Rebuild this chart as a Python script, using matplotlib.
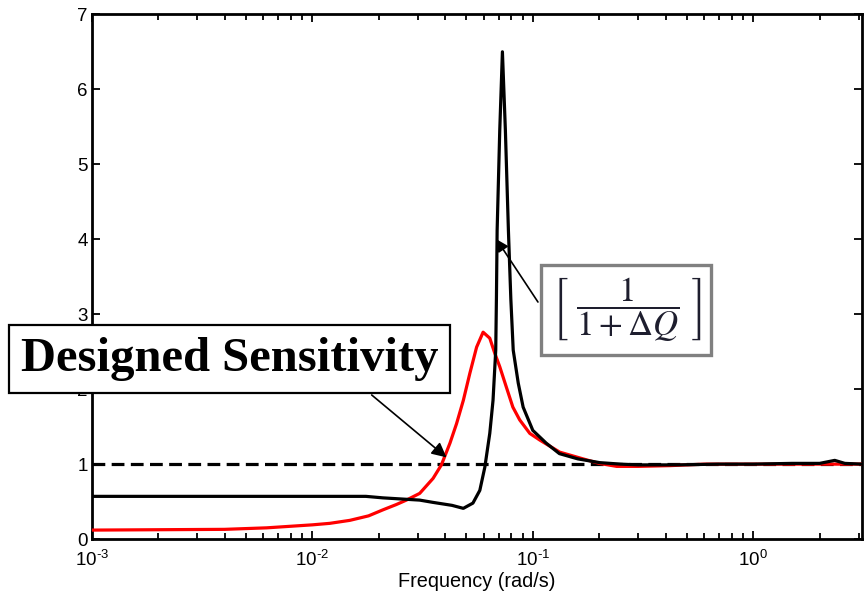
import matplotlib
matplotlib.use("Agg")
import matplotlib.pyplot as plt
from matplotlib.ticker import FixedLocator, FuncFormatter

# designed sensitivity (red)
red_freq = [0.001, 0.002, 0.004, 0.0062, 0.01, 0.012, 0.0148, 0.018, 0.0209, 0.024,
            0.0267, 0.0307, 0.0353, 0.0385, 0.0421, 0.0451, 0.0484, 0.0518, 0.0556,
            0.0595, 0.0638, 0.0672, 0.0708, 0.0758, 0.0812, 0.0872, 0.0969, 0.1077,
            0.1324, 0.169, 0.2, 0.24, 0.3, 0.42, 0.6, 1.0, 1.5, 2.3, 3.1]
red_mag = [0.12, 0.125, 0.13, 0.15, 0.19, 0.21, 0.25, 0.31, 0.39, 0.46,
           0.52, 0.61, 0.81, 0.99, 1.28, 1.54, 1.85, 2.21, 2.56,
           2.76, 2.68, 2.48, 2.30, 2.03, 1.76, 1.59, 1.41, 1.32,
           1.16, 1.07, 1.01, 0.97, 0.97, 0.98, 1.0, 1.0, 1.0, 1.0, 1.0]

# 1/(1+dQ) (black)
blk_freq = [0.001, 0.003, 0.01, 0.0175, 0.0209, 0.0307, 0.0352, 0.043, 0.0484,
            0.0535, 0.0575, 0.0606, 0.0638, 0.066, 0.0679, 0.0684, 0.0689, 0.0708,
            0.0728, 0.0751, 0.0775, 0.0795, 0.0815, 0.0859, 0.0904, 0.1, 0.115,
            0.132, 0.16, 0.201, 0.25, 0.3, 0.45, 0.7, 1.0, 1.5, 2.0, 2.34, 2.6, 3.1]
blk_mag = [0.57, 0.57, 0.57, 0.57, 0.55, 0.52, 0.49, 0.45, 0.41,
           0.48, 0.65, 0.96, 1.41, 1.85, 2.52, 3.23, 4.12, 5.45,
           6.5, 5.45, 4.12, 3.2, 2.52, 2.08, 1.76, 1.45, 1.28,
           1.14, 1.07, 1.02, 1.0, 0.99, 0.99, 1.0, 1.0, 1.01, 1.01, 1.05, 1.01, 1.0]

unity = 1.0
decades = [1e-3, 1e-2, 1e-1, 1e0]
dec_labels = ['10$^{\u2010 3}$', '10$^{\u2010 2}$', '10$^{\u2010 1}$', '10$^{0}$']

plt.rcParams['font.family'] = ['Liberation Sans', 'DejaVu Sans']
plt.rcParams['mathtext.fontset'] = 'custom'
plt.rcParams['mathtext.rm'] = 'Liberation Sans'
plt.rcParams['mathtext.it'] = 'Liberation Sans'
plt.rcParams['mathtext.default'] = 'rm'

fig = plt.figure(figsize=(8.66, 5.97), dpi=100)
ax = fig.add_axes([0.106, 0.097, 0.889, 0.879])

ax.semilogx(red_freq, red_mag, color='#ff0000', lw=2.3, zorder=3)
ax.semilogx(blk_freq, blk_mag, color='black', lw=2.3, zorder=4)
ax.axhline(unity, color='black', lw=2.3, ls=(0, (4, 2)), zorder=2)

ax.set_xlim(1e-3, 3.1)
ax.set_ylim(0, 7)
ax.set_yticks(range(0, 8))
ax.xaxis.set_major_locator(FixedLocator(decades))
ax.xaxis.set_major_formatter(FuncFormatter(lambda v, p: dec_labels[decades.index(v)] if v in decades else ''))
ax.set_xlabel('Frequency (rad/s)', fontsize=14.3, labelpad=1)
ax.tick_params(which='both', direction='in', top=True, right=True, labelsize=13.5, width=1.3)
ax.tick_params(which='major', length=6, pad=3)
ax.tick_params(which='minor', length=4)
ax.tick_params(axis='x', pad=8)
for s in ax.spines.values():
    s.set_linewidth(2)

# annotations
ax.annotate('', xy=(0.0406, 1.09), xycoords='data',
            xytext=(0.4292, 0.3384), textcoords='figure fraction',
            arrowprops=dict(arrowstyle='-|>', color='black', lw=1.2, mutation_scale=22,
                            shrinkA=0, shrinkB=0), zorder=9)
ax.text(0.2652, 0.3988, 'Designed Sensitivity', transform=fig.transFigure,
        ha='center', va='center', fontsize=35, fontweight='bold',
        family='Liberation Serif', zorder=10,
        bbox=dict(boxstyle='square,pad=0.24', fc='white', ec='black', lw=1.6))

ax.annotate('', xy=(0.0684, 4.0), xycoords='data',
            xytext=(0.6212, 0.4941), textcoords='figure fraction',
            arrowprops=dict(arrowstyle='-|>', color='black', lw=1.2, mutation_scale=18,
                            shrinkA=0, shrinkB=0), zorder=9)
ax.text(0.7231, 0.4807, r'$\left[\ \dfrac{1}{1+\Delta \mathit{Q}}\ \right]$', transform=fig.transFigure,
        ha='center', va='center', fontsize=25, math_fontfamily='stix', color='#1e1e2e',
        zorder=10,
        bbox=dict(boxstyle='square,pad=0.3', fc='white', ec='#808080', lw=2.4))

fig.savefig('out.png', dpi=100)
